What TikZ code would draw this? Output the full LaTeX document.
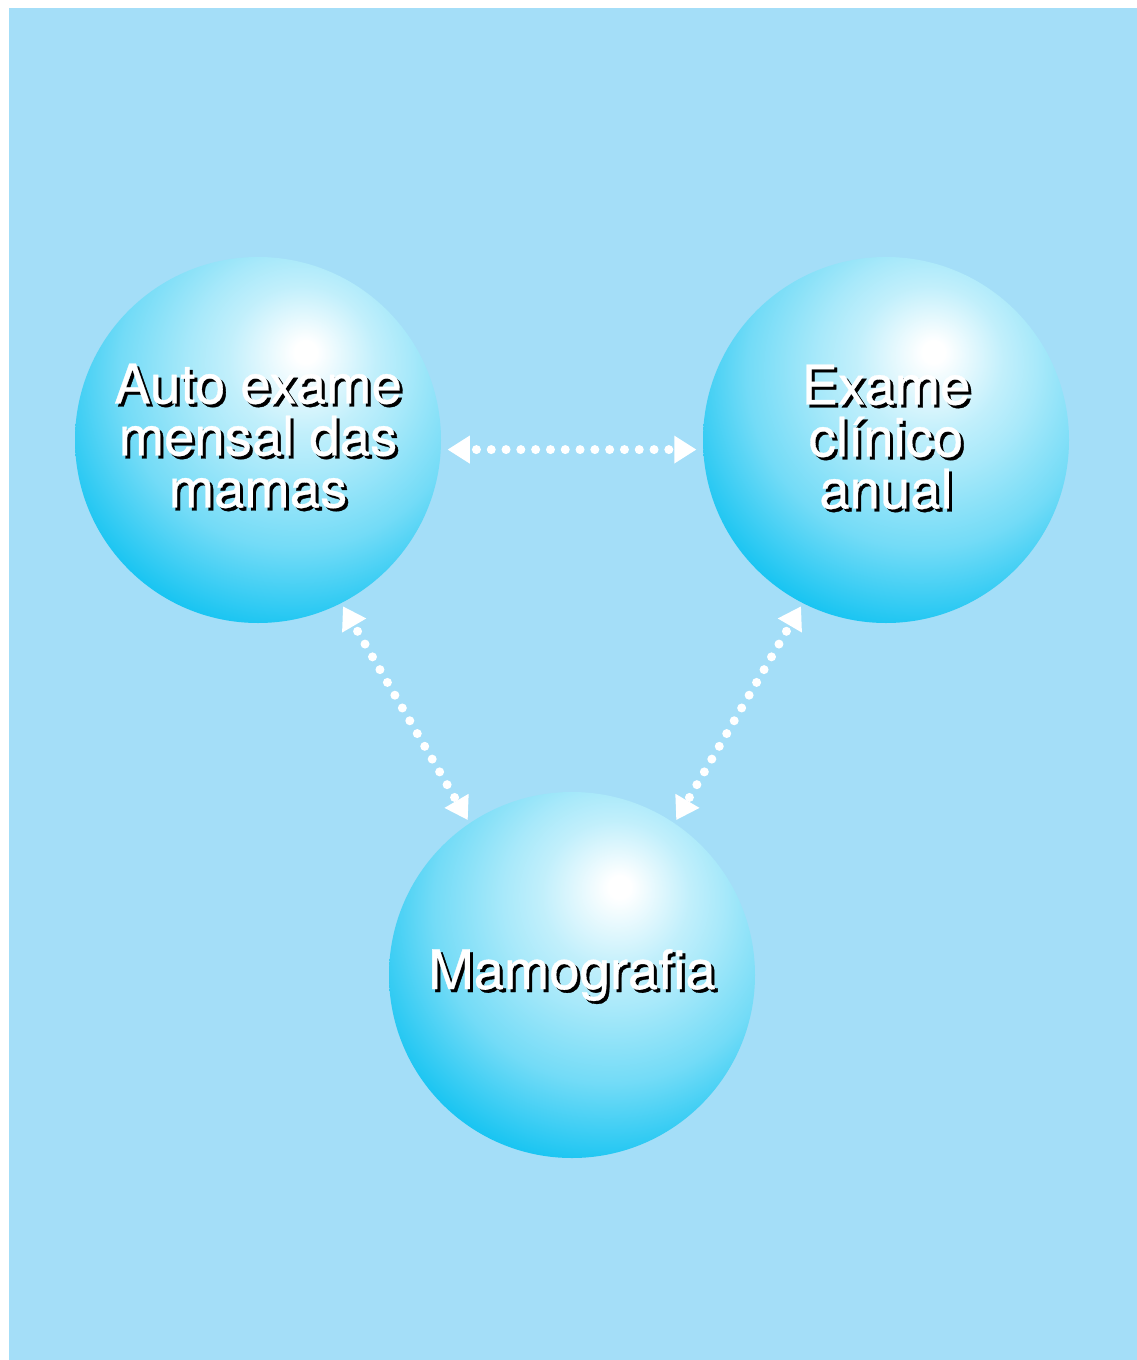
\documentclass[tikz,border=0pt]{standalone}
\usepackage{fontspec}
\setmainfont{TeX Gyre Heros}
\newfontfamily\bubblefont[FakeBold=0.6]{TeX Gyre Heros}
\usetikzlibrary{arrows.meta}

\definecolor{skybg}{RGB}{164,222,248}
\definecolor{bubblecyan}{RGB}{0,190,240}
\pgfdeclareradialshading{bubble}{\pgfpoint{6.6bp}{12.2bp}}{%
  color(0bp)=(white); color(1.5bp)=(white);
  color(10bp)=(bubblecyan!24!white); color(15bp)=(bubblecyan!34!white);
  color(24bp)=(bubblecyan!55!white); color(34bp)=(bubblecyan!90!white);
  color(40bp)=(bubblecyan); color(100bp)=(bubblecyan)}

\tikzset{
  sphere/.style={circle, inner sep=0pt, outer sep=0pt, minimum size=366pt, shading=bubble},
  caption/.style={white, align=center, inner sep=0pt, font=\bubblefont\fontsize{54.5}{52}\selectfont},
  captionshadow/.style={caption, text=black},
  link/.style={white, line width=9pt, line cap=round,
    dash pattern=on 0pt off 14.8pt, dash phase=8.1pt,
    <->, >={Triangle[length=22pt,width=28pt,line width=0pt]}},
}

\begin{document}
\begin{tikzpicture}[x=1pt,y=-1pt]
    \useasboundingbox (0,0) rectangle (1137,1360);
    \fill[skybg] (9,8) rectangle (1137,1360);

    % the three exams
    \node[sphere] (auto) at (258,440) {};
    \node[sphere] (clinico) at (886,440) {};
    \node[sphere] (mamo) at (572,975) {};

    \node[captionshadow] (auto-sh) at ([shift={(3,-1)}]auto) {Auto exame\\mensal das\\mamas};
    \node[caption] (auto-txt) at ([shift={(0,-4)}]auto) {Auto exame\\mensal das\\mamas};
    \node[captionshadow] (clinico-sh) at ([shift={(3,0)}]clinico) {Exame\\clínico\\anual};
    \node[caption] (clinico-txt) at ([shift={(0,-3)}]clinico) {Exame\\clínico\\anual};
    \node[captionshadow] (mamo-sh) at ([shift={(3,3)}]mamo) {Mamografia};
    \node[caption] (mamo-txt) at (mamo) {Mamografia};

    \draw[link, shorten <=7pt, shorten >=7pt] (auto.-3) -- (clinico.183);
    \draw[link, shorten <=4pt, shorten >=4pt] (auto.-63) -- (mamo.124);
    \draw[link, shorten <=4pt, shorten >=4pt] (clinico.243) -- (mamo.56);
\end{tikzpicture}
\end{document}
